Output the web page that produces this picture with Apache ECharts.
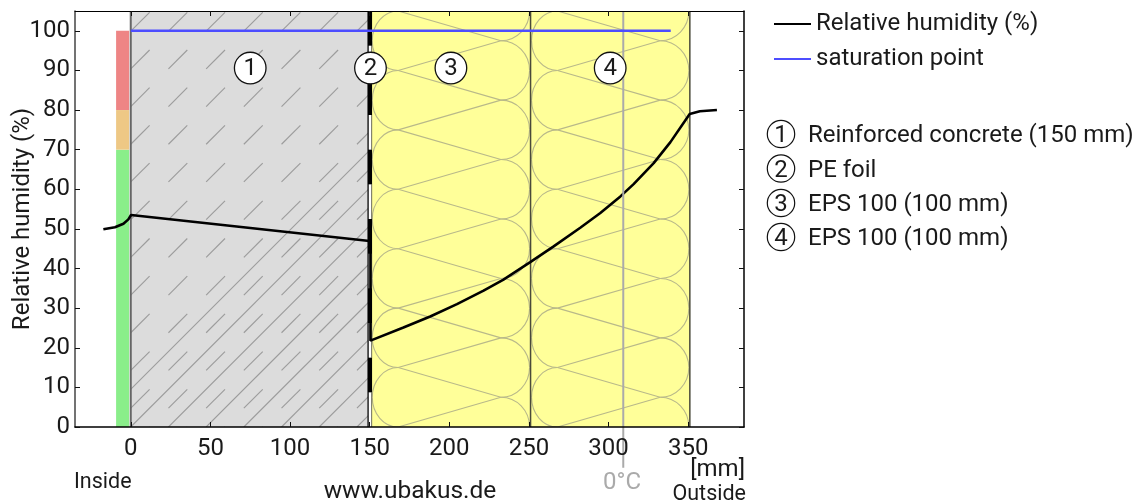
<!DOCTYPE html>
<html>
<head>
<meta charset="utf-8">
<style>html,body{margin:0;padding:0;background:#fff}#c{width:1142px;height:502px}</style>
<script src="https://cdn.jsdelivr.net/npm/echarts@6/dist/echarts.min.js"></script>
</head>
<body>
<div id="c"></div>
<script>
// ---- data ----
const xTicks = [0, 50, 100, 150, 200, 250, 300, 350];
const yTicks = [0, 10, 20, 30, 40, 50, 60, 70, 80, 90, 100];
const humidityX = [-17.2, -9.9, -4.6, -1.5, 0.2, 148.5, 150.5, 150.5, 151.4, 171.2, 188, 204.8, 221.5, 234, 250.8, 265.5, 282.2, 294.8, 307.4, 315.7, 328.3, 338.8, 350.9, 357.3, 368];
const humidityY = [49.9, 50.4, 51.3, 52.4, 53.5, 47, 46.9, 21.8, 22, 25.1, 27.9, 31, 34.4, 37.2, 41.6, 45.6, 50.3, 54, 58.2, 61.3, 66.6, 71.9, 79, 79.7, 80];
const saturationX = [0, 339];
const saturationY = [100, 100];
const bandFrom = [0, 70, 80];
const bandTo = [70, 80, 100];
const layerStart = [0, 151, 251];
const layerEnd = [150, 251, 351];
const layerKind = ['concrete', 'eps', 'eps'];
const badgeX = [75, 150.5, 201, 301];
const layerNames = ['Reinforced concrete (150 mm)', 'PE foil', 'EPS 100 (100 mm)', 'EPS 100 (100 mm)'];
const frostX = 309.2;

const FONT = 'Roboto';
const INK = '#1a1a1a';
const chart = echarts.init(document.getElementById('c'), null, {renderer: 'canvas'});

function concreteHatch(x0, y0, r) {
  const tile = 37.7, half = tile / 2, kids = [];
  const st = {stroke: '#9c9c9c', lineWidth: 1.15, fill: null};
  const span = r.width + r.height;
  for (let k = -1; k * tile <= span; k++) {
    const sx = x0 + k * tile;
    kids.push({type: 'line', shape: {x1: sx, y1: y0, x2: sx + 440, y2: y0 - 440}, style: st});
  }
  for (let i = -1; i * tile < r.width + tile; i++) {
    for (let j = -12; j <= 1; j++) {
      const ax = x0 + i * tile, ay = y0 + half + j * tile;
      kids.push({type: 'line', shape: {x1: ax, y1: ay, x2: ax + half, y2: ay - half}, style: st});
    }
  }
  return kids;
}

function epsHatch(api, start, end) {
  const kids = [];
  const st = {stroke: '#b9b98a', lineWidth: 1.1, fill: null};
  const xL = api.coord([start + 16.9, 0])[0], xR = api.coord([start + 81.4, 0])[0];
  const pL = api.coord([start, 0])[0] + 1, pR = api.coord([end, 0])[0] - 1;
  const K = 0.5523;
  function halfEllipse(cx, yTop, yBot, ext) {
    const my = (yTop + yBot) / 2, ry = (yBot - yTop) / 2, dx = ext - cx;
    kids.push({type: 'bezierCurve', shape: {x1: cx, y1: yTop, cpx1: cx + K * dx, cpy1: yTop, cpx2: ext, cpy2: my - K * ry, x2: ext, y2: my}, style: st});
    kids.push({type: 'bezierCurve', shape: {x1: ext, y1: my, cpx1: ext, cpy1: my + K * ry, cpx2: cx + K * dx, cpy2: yBot, x2: cx, y2: yBot}, style: st});
  }
  for (let v = 105; v >= -15; v -= 15) {
    const a = api.coord([0, v])[1], b = api.coord([0, v - 15])[1];
    const c = api.coord([0, v + 7.5])[1], d = api.coord([0, v - 7.5])[1];
    halfEllipse(xL, a, b, pL);
    halfEllipse(xR, c, d, pR);
    kids.push({type: 'line', shape: {x1: xL, y1: a, x2: xR, y2: c}, style: st});
    kids.push({type: 'line', shape: {x1: xL, y1: a, x2: xR, y2: d}, style: st});
  }
  return kids;
}

function renderLayer(params, api) {
  const i = api.value(0);
  const s = layerStart[i], e = layerEnd[i];
  const lt = api.coord([s, 105]), rb = api.coord([e, 0]);
  const r = {x: lt[0], y: lt[1], width: rb[0] - lt[0], height: rb[1] - lt[1]};
  const concrete = layerKind[i] === 'concrete';
  const kids = [{type: 'rect', shape: r, style: {fill: concrete ? '#dcdcdc' : '#ffff99'}}];
  kids.push({
    type: 'group',
    clipPath: {type: 'rect', shape: r},
    children: concrete ? concreteHatch(lt[0], rb[1], r) : epsHatch(api, s, e)
  });
  const edge = concrete ? {x: lt[0], c: '#666666', w: 2} : {x: rb[0], c: '#4a4a3a', w: 1.5};
  kids.push({type: 'line', shape: {x1: edge.x, y1: lt[1], x2: edge.x, y2: rb[1]}, style: {stroke: edge.c, lineWidth: edge.w}});
  return {type: 'group', children: kids};
}

function renderFoil(params, api) {
  const y0 = api.coord([0, 0])[1], yT = api.coord([0, 105])[1];
  const xa = api.coord([148.6, 0])[0], xb = api.coord([151.5, 0])[0];
  const wa = api.coord([149.4, 0])[0], wb = api.coord([151, 0])[0];
  const kids = [{type: 'rect', shape: {x: xa, y: yT, width: xb - xa, height: y0 - yT}, style: {fill: '#000'}}];
  for (let v = 0; v < 105; v += 17.5) {
    const a = api.coord([0, v + 8.75])[1], b = api.coord([0, v])[1];
    kids.push({type: 'rect', shape: {x: wa, y: a, width: wb - wa, height: b - a}, style: {fill: '#fff'}});
    kids.push({type: 'rect', shape: {x: wb, y: a, width: xb - wb, height: b - a}, style: {fill: '#9a9a80'}});
  }
  return {type: 'group', children: kids};
}

function renderBand(params, api) {
  const a = api.coord([-9.2, api.value(1)]), b = api.coord([-1, api.value(0)]);
  const colors = ['#8aee8a', '#eec885', '#ee8585'];
  return {type: 'rect', shape: {x: a[0], y: a[1], width: b[0] - a[0], height: b[1] - a[1]}, style: {fill: colors[params.dataIndex]}};
}

function renderFrost(params, api) {
  const a = api.coord([api.value(0), 105]), b = api.coord([api.value(0), -10.3]);
  return {type: 'line', shape: {x1: a[0], y1: a[1], x2: b[0], y2: b[1]}, style: {stroke: '#aaaaaa', lineWidth: 2}};
}

function renderBadge(params, api) {
  const p = api.coord([api.value(0), 90.6]);
  return {type: 'group', children: [
    {type: 'circle', shape: {cx: p[0], cy: p[1], r: 15.8}, style: {fill: '#fff', stroke: '#111', lineWidth: 1.3}},
    {type: 'text', x: p[0], y: p[1] + 1, style: {text: String(params.dataIndex + 1), font: '24px ' + FONT, fill: INK, align: 'center', verticalAlign: 'middle'}}
  ]};
}

const txt = (text, x, y, size, align, color) => ({
  type: 'text', x, y, silent: true,
  style: {text, font: size + 'px ' + FONT, fill: color || INK, align: align || 'left', verticalAlign: 'middle'}
});
const keyRows = [134, 168.5, 203, 237];
const graphics = [
  txt('Inside', 74, 482.5, 21.5),
  txt('www.ubakus.de', 410, 491.5, 24.5, 'center'),
  txt('0°C', 622, 483, 24, 'center', '#aaaaaa'),
  txt('[mm]', 745, 470, 24, 'right'),
  txt('Outside', 746, 495, 21.5, 'right')
];
layerNames.forEach((n, i) => {
  graphics.push({type: 'circle', silent: true, shape: {cx: 781, cy: keyRows[i], r: 13.7}, style: {fill: 'none', stroke: '#111', lineWidth: 1.2}});
  graphics.push(txt(String(i + 1), 781, keyRows[i] + 2, 24, 'center'));
  graphics.push(txt(n, 808, keyRows[i] + 2, 24));
});

const axisCommon = {
  axisLine: {show: true, onZero: false, lineStyle: {color: '#000', width: 1.5}},
  axisTick: {show: true, inside: true, length: 5, lineStyle: {color: '#111', width: 1}},
  splitLine: {show: false},
  z: 20
};

chart.setOption({
  animation: false,
  backgroundColor: '#fff',
  textStyle: {fontFamily: FONT},
  grid: {left: 75, right: 398, top: 11, bottom: 75, containLabel: false, outerBoundsMode: 'none'},
  legend: {
    orient: 'vertical', left: 773, top: 12, padding: 0,
    itemWidth: 37, itemHeight: 25, itemGap: 11,
    data: ['Relative humidity (%)', 'saturation point'],
    textStyle: {fontFamily: FONT, fontSize: 24, color: INK},
    itemStyle: {color: 'transparent', borderWidth: 0, opacity: 0},
    selectedMode: false
  },
  xAxis: [
    Object.assign({}, axisCommon, {type: 'value', min: -35, max: 385, position: 'bottom',
      axisTick: Object.assign({}, axisCommon.axisTick, {customValues: xTicks}),
      axisLabel: {customValues: xTicks, fontFamily: FONT, fontSize: 24, color: INK, margin: 10}}),
    Object.assign({}, axisCommon, {type: 'value', min: -35, max: 385, position: 'top',
      axisLine: {show: true, onZero: false, lineStyle: {color: '#000', width: 1}},
      axisTick: Object.assign({}, axisCommon.axisTick, {customValues: xTicks}),
      axisLabel: {show: false}})
  ],
  yAxis: [
    Object.assign({}, axisCommon, {type: 'value', min: 0, max: 105, position: 'left',
      name: 'Relative humidity (%)', nameLocation: 'middle', nameGap: 40, nameRotate: 90, nameMoveOverlap: false,
      nameTextStyle: {fontFamily: FONT, fontSize: 24, color: INK},
      axisLine: {show: true, onZero: false, lineStyle: {color: '#444', width: 1.5}},
      axisTick: Object.assign({}, axisCommon.axisTick, {customValues: yTicks}),
      axisLabel: {customValues: yTicks, fontFamily: FONT, fontSize: 24, color: INK, margin: 5, padding: [2, 0, 0, 0]}}),
    Object.assign({}, axisCommon, {type: 'value', min: 0, max: 105, position: 'right',
      axisTick: Object.assign({}, axisCommon.axisTick, {customValues: yTicks}),
      axisLabel: {show: false}})
  ],
  graphic: graphics,
  series: [
    {type: 'custom', name: 'layers', silent: true, z: 2, clip: true, renderItem: renderLayer, data: [[2], [1], [0]]},
    {type: 'custom', name: 'foil', silent: true, z: 3, clip: true, renderItem: renderFoil, data: [[0]]},
    {type: 'custom', name: 'rating', silent: true, z: 4, clip: true, renderItem: renderBand, data: bandFrom.map((v, i) => [v, bandTo[i]])},
    {type: 'line', name: 'Relative humidity (%)', silent: true, z: 6, showSymbol: false, symbol: 'none', smooth: false, clip: false,
      lineStyle: {color: '#000', width: 2.6}, itemStyle: {color: '#000'},
      data: humidityX.map((x, i) => [x, humidityY[i]])},
    {type: 'custom', name: 'frost', silent: true, z: 7, clip: false, renderItem: renderFrost, data: [[frostX]]},
    {type: 'line', name: 'saturation point', silent: true, z: 8, showSymbol: false, symbol: 'none', smooth: false,
      lineStyle: {color: '#4d4dff', width: 2.5}, itemStyle: {color: '#4d4dff'},
      data: saturationX.map((x, i) => [x, saturationY[i]])},
    {type: 'custom', name: 'badges', silent: true, z: 9, clip: false, renderItem: renderBadge, data: badgeX.map(x => [x])}
  ]
});
</script>
</body>
</html>
